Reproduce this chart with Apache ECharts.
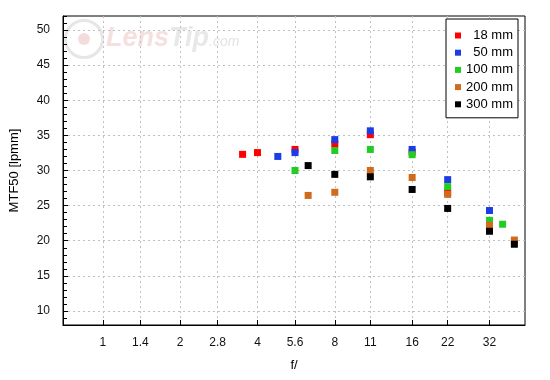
<!DOCTYPE html>
<html>
<head>
<meta charset="utf-8">
<script src="https://cdn.jsdelivr.net/npm/echarts@6/dist/echarts.min.js"></script>
<style>html,body{margin:0;padding:0;background:#fff}#c{width:550px;height:380px}</style>
</head>
<body>
<div id="c"></div>
<script>
var xTicks = [1, 1.4, 2, 2.8, 4, 5.6, 8, 11, 16, 22, 32];
var xTickLabels = ['1', '1.4', '2', '2.8', '4', '5.6', '8', '11', '16', '22', '32'];
var yTicks = [10, 15, 20, 25, 30, 35, 40, 45, 50];

var seriesNames = ['18 mm', '50 mm', '100 mm', '200 mm', '300 mm'];
var seriesColors = ['#ff0000', '#1c3de6', '#22cc22', '#d06b1c', '#000000'];

var ap18 = [3.5, 4, 5.6, 8, 11, 16, 22];
var mtf18 = [32.3, 32.55, 33.0, 33.8, 35.1, 32.6, 26.9];
var ap50 = [4.8, 5.6, 8, 11, 16, 22, 32];
var mtf50 = [32.0, 32.55, 34.4, 35.65, 33.0, 28.7, 24.3];
var ap100 = [5.6, 8, 11, 16, 22, 32, 36];
var mtf100 = [30.0, 32.85, 33.0, 32.25, 27.7, 22.9, 22.35];
var ap200 = [6.3, 8, 11, 16, 22, 32, 40];
var mtf200 = [26.45, 26.9, 30.0, 29.0, 26.6, 22.2, 20.1];
var ap300 = [6.3, 8, 11, 16, 22, 32, 40];
var mtf300 = [30.7, 29.45, 29.1, 27.3, 24.6, 21.35, 19.5];

var apertures = [ap18, ap50, ap100, ap200, ap300];
var values = [mtf18, mtf50, mtf100, mtf200, mtf300];

function pairs(xs, ys) {
  var out = [];
  for (var i = 0; i < xs.length; i++) out.push([xs[i], ys[i]]);
  return out;
}

var series = seriesNames.map(function (name, k) {
  return {
    name: name,
    type: 'scatter',
    symbol: 'rect',
    symbolSize: 7,
    itemStyle: { color: seriesColors[k], opacity: 1 },
    data: pairs(apertures[k], values[k]),
    emphasis: { disabled: true },
    animation: false
  };
});

var chart = echarts.init(document.getElementById('c'), null, { renderer: 'canvas' });
var FONT = '"Liberation Sans", Arial, sans-serif';

chart.setOption({
  animation: false,
  backgroundColor: '#ffffff',
  textStyle: { fontFamily: FONT },
  graphic: [
    {
      type: 'circle', z: -10, silent: true,
      shape: { cx: 84, cy: 39, r: 18.5 },
      style: { fill: 'none', stroke: '#e6e6e6', lineWidth: 3 }
    },
    {
      type: 'circle', z: -10, silent: true,
      shape: { cx: 84, cy: 39, r: 6 },
      style: { fill: '#f5dcdc' }
    },
    {
      type: 'text', z: -10, silent: true, left: 106, top: 25,
      style: {
        text: '{a|Lens}{b|Tip}{c|.com}',
        rich: {
          a: { fontSize: 27, fontWeight: 'bold', fontStyle: 'italic', fill: '#f6dfdf', fontFamily: FONT },
          b: { fontSize: 27, fontWeight: 'bold', fontStyle: 'italic', fill: '#e8e8e8', fontFamily: FONT },
          c: { fontSize: 14, fontStyle: 'italic', fill: '#e4e4e4', fontFamily: FONT, padding: [8, 0, 0, 0] }
        }
      }
    }
  ],
  grid: {
    left: 61, right: 25, top: 16, bottom: 55,
    show: true, borderColor: '#000', borderWidth: 1, backgroundColor: 'transparent'
  },
  legend: {
    orient: 'vertical',
    right: 32, top: 19,
    backgroundColor: '#fff',
    borderColor: '#000', borderWidth: 1,
    padding: [10, 5, 7, 9],
    itemWidth: 6, itemHeight: 6, itemGap: 4.2,
    icon: 'rect',
    selectedMode: false,
    formatter: function (n) { return '{t|' + n + '}'; },
    textStyle: {
      rich: { t: { width: 47, align: 'right', fontSize: 13, lineHeight: 15, color: '#000', fontFamily: FONT } }
    },
    data: seriesNames
  },
  xAxis: {
    type: 'log', logBase: 2, min: 0.7, max: 44,
    name: 'f/', nameLocation: 'middle', nameGap: 34,
    nameTextStyle: { fontSize: 13, color: '#000', fontFamily: FONT },
    axisLine: { lineStyle: { color: '#000', width: 1 } },
    axisTick: { inside: true, length: 5, customValues: xTicks, lineStyle: { color: '#000' } },
    axisLabel: {
      customValues: xTicks, fontSize: 12, color: '#111', margin: 12, fontFamily: FONT,
      formatter: function (v) {
        var best = 0, d = Infinity;
        for (var i = 0; i < xTicks.length; i++) {
          var dd = Math.abs(xTicks[i] - v);
          if (dd < d) { d = dd; best = i; }
        }
        return xTickLabels[best];
      }
    },
    splitLine: { show: true, lineStyle: { color: '#c0c0c0', type: [2, 3], width: 1 } },
    minorTick: { show: false }
  },
  yAxis: [
    {
      type: 'value', min: 8, max: 52,
      name: 'MTF50 [lpmm]', nameLocation: 'middle', nameGap: 42,
      nameTextStyle: { fontSize: 13, color: '#000', fontFamily: FONT },
      axisLine: { show: true, lineStyle: { color: '#000', width: 1 } },
      axisTick: { show: true, inside: true, length: 5, customValues: yTicks, lineStyle: { color: '#000' } },
      axisLabel: { customValues: yTicks, fontSize: 12, color: '#111', margin: 13, fontFamily: FONT },
      splitLine: { show: true, lineStyle: { color: '#c0c0c0', type: [2, 3], width: 1 } }
    },
    {
      type: 'value', min: 8, max: 52, interval: 1, position: 'left', offset: 0,
      axisLine: { show: false },
      axisTick: { show: true, inside: true, length: 4, lineStyle: { color: '#000' } },
      axisLabel: { show: false },
      splitLine: { show: false }
    }
  ],
  series: series
});
</script>
</body>
</html>
